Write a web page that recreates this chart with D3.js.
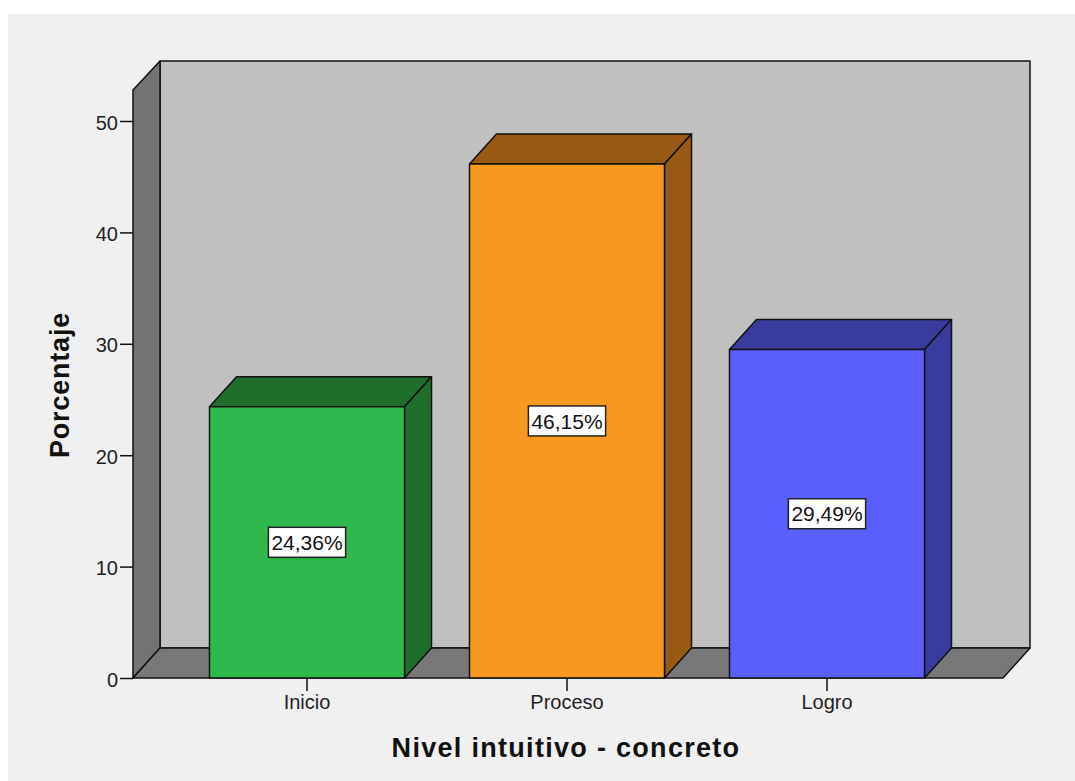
<!DOCTYPE html>
<html>
<head>
<meta charset="utf-8">
<script src="https://cdn.jsdelivr.net/npm/d3@7"></script>
<style>
  body { margin: 0; background: #fff; }
  text { font-family: "Liberation Sans", Arial, sans-serif; }
</style>
</head>
<body>
<div id="chart"></div>
<script>
// data
const categories = ["Inicio", "Proceso", "Logro"];
const percentages = [24.36, 46.15, 29.49];
const labels = ["24,36%", "46,15%", "29,49%"];
const yTicks = [0, 10, 20, 30, 40, 50];
const frontColors = ["#2fb84b", "#f7991f", "#5a5eff"];
const sideColors = ["#1e6e2e", "#985a12", "#393c9e"];

const W = 1075, H = 781;
const depthX = 27, depthY = 30;
const x0 = 133, x1 = 1003; // front floor extent
const yBase = 678;

const svg = d3.select("#chart").append("svg")
  .attr("width", W).attr("height", H);

// panel background
svg.append("rect")
  .attr("x", 8).attr("y", 14)
  .attr("width", W - 8).attr("height", H - 14)
  .attr("fill", "#f0f0f0");

const y = d3.scaleLinear().domain([0, 50]).range([yBase, 121]);
const yTop = 90; // top of the front of the left wall

const x = d3.scaleBand()
  .domain(categories)
  .range([177, 957])
  .paddingInner(0.25)
  .paddingOuter(0.125);

const edge = { stroke: "#111", "stroke-width": 1.5, "stroke-linejoin": "round" };
const poly = (pts, fill) => {
  const p = svg.append("polygon")
    .attr("points", pts.map(d => d.join(",")).join(" "))
    .attr("fill", fill);
  Object.entries(edge).forEach(([k, v]) => p.attr(k, v));
  return p;
};

// back wall
poly([[x0 + depthX, yTop - depthY + 1], [x1 + depthX, yTop - depthY + 1],
      [x1 + depthX, yBase - depthY], [x0 + depthX, yBase - depthY]], "#c0c0c0");
// left wall
poly([[x0, yTop], [x0 + depthX, yTop - depthY + 1],
      [x0 + depthX, yBase - depthY], [x0, yBase]], "#737373");
// floor
poly([[x0, yBase], [x0 + depthX, yBase - depthY],
      [x1 + depthX, yBase - depthY], [x1, yBase]], "#787878");

// bars
const bars = categories.map((c, i) => ({ c, v: percentages[i], i }));
bars.forEach(d => {
  const bx = x(d.c), bw = x.bandwidth(), ty = y(d.v);
  // top
  poly([[bx, ty], [bx + depthX, ty - depthY], [bx + bw + depthX, ty - depthY], [bx + bw, ty]],
       sideColors[d.i]);
  // side
  poly([[bx + bw, ty], [bx + bw + depthX, ty - depthY],
        [bx + bw + depthX, yBase - depthY], [bx + bw, yBase]], sideColors[d.i]);
  // front
  poly([[bx, ty], [bx + bw, ty], [bx + bw, yBase], [bx, yBase]], frontColors[d.i]);
});

// value labels
bars.forEach(d => {
  const cx = x(d.c) + x.bandwidth() / 2;
  const cy = (y(d.v) + yBase) / 2;
  const g = svg.append("g").attr("transform", `translate(${cx},${cy})`);
  const t = g.append("text")
    .attr("text-anchor", "middle").attr("dy", "0.36em")
    .attr("font-size", 21).attr("fill", "#111")
    .text(labels[d.i]);
  const bb = t.node().getBBox();
  g.insert("rect", "text")
    .attr("x", bb.x - 3).attr("y", -15)
    .attr("width", bb.width + 6).attr("height", 30)
    .attr("fill", "#fff").attr("stroke", "#222").attr("stroke-width", 1.5);
});

// y axis
const yAxis = svg.append("g").attr("transform", `translate(${x0},0)`)
  .call(d3.axisLeft(y).tickValues(yTicks).tickSize(13).tickPadding(2));
yAxis.select(".domain").remove();
yAxis.selectAll("line").attr("stroke", "#111").attr("stroke-width", 1.5);
yAxis.selectAll("text").attr("font-size", 20).attr("fill", "#222").attr("dy", "0.4em")
  .style("font-family", "Liberation Sans, Arial, sans-serif");

// x axis
const xAxis = svg.append("g").attr("transform", `translate(0,${yBase})`)
  .call(d3.axisBottom(x).tickSize(13).tickPadding(4));
xAxis.select(".domain").remove();
xAxis.selectAll("line").attr("stroke", "#111").attr("stroke-width", 1.5);
xAxis.selectAll("text").attr("font-size", 20).attr("fill", "#222")
  .style("font-family", "Liberation Sans, Arial, sans-serif");

// axis titles
svg.append("text")
  .attr("x", 566).attr("y", 757)
  .attr("text-anchor", "middle")
  .attr("font-size", 27).attr("font-weight", "bold")
  .attr("letter-spacing", 1.3).attr("fill", "#111")
  .text("Nivel intuitivo - concreto");

svg.append("text")
  .attr("transform", "translate(69,385) rotate(-90)")
  .attr("text-anchor", "middle")
  .attr("font-size", 27).attr("font-weight", "bold")
  .attr("letter-spacing", 0.8).attr("fill", "#111")
  .text("Porcentaje");
</script>
</body>
</html>
